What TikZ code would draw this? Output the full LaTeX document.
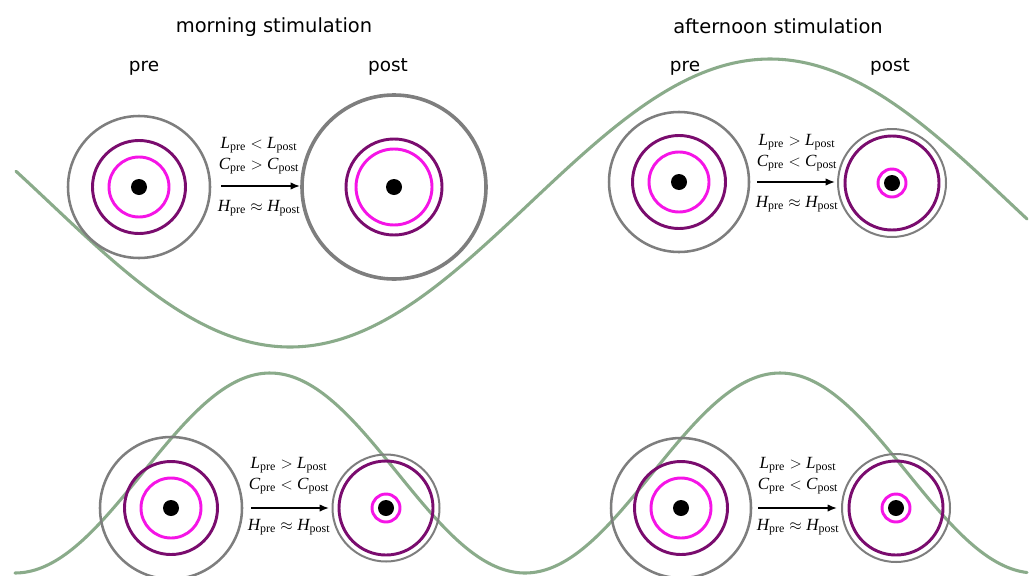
\documentclass[tikz,border=0pt]{standalone}
\usepackage{fontspec}
\setmainfont{Liberation Serif}
\newfontfamily\labfont{DejaVu Sans}
\usetikzlibrary{arrows.meta}
\definecolor{wave}{HTML}{8AAB8A}
\definecolor{ringgray}{HTML}{7E7E7E}
\definecolor{ringpurple}{HTML}{7A0C6E}
\definecolor{ringmag}{HTML}{F514E6}
\begin{document}
\begin{tikzpicture}[x=0.75pt,y=-0.75pt,
  wavestyle/.style={draw=wave,line width=2.3pt,line cap=round},
  grayring/.style={draw=ringgray,line width=1.9pt},
  grayringthick/.style={draw=ringgray,line width=2.7pt},
  grayringthin/.style={draw=ringgray,line width=1.5pt},
  purplering/.style={draw=ringpurple,line width=2.2pt},
  magring/.style={draw=ringmag,line width=2.2pt},
  dotstyle/.style={fill=black},
  title/.style={font=\labfont\fontsize{14.6pt}{16pt}\selectfont,anchor=base},
  phase/.style={font=\labfont\fontsize{13.8pt}{16pt}\selectfont,anchor=base},
  rel/.style={font=\fontsize{12.8pt}{14pt}\selectfont,inner sep=0pt},
  trans/.style={-{Latex[length=7pt,width=5.5pt]},line width=1.1pt}
]
\useasboundingbox (0,0) rectangle (1030,575);
% background waves
\draw[wavestyle] plot[domain=16:1027,samples=300] (\x,{203+144*cos(0.375*(\x-290))});
\draw[wavestyle] plot[domain=15:1027,samples=300] (\x,{473-100*cos(0.70588*(\x-270))});
% titles
\node[title] (tmorning) at (274,32) {morning stimulation};
\node[title] (tafternoon) at (778,33) {afternoon stimulation};
\node[phase] (pre1) at (144,71) {pre};
\node[phase] (post1) at (388,71) {post};
\node[phase] (pre2) at (685,71) {pre};
\node[phase] (post2) at (890,71) {post};
% centres
\coordinate (c1) at (139,187);
\coordinate (c2) at (394,187);
\coordinate (c3) at (679,182);
\coordinate (c4) at (892,183);
\coordinate (c5) at (171,508);
\coordinate (c6) at (386,508);
\coordinate (c7) at (681,508);
\coordinate (c8) at (896,508);
% top-left pre
\draw[grayring] (c1) circle (71);
\draw[purplering] (c1) circle (46.5);
\draw[magring] (c1) circle (30);
\fill[dotstyle] (c1) circle (8);
% top-left post
\draw[grayringthick] (c2) circle (92);
\draw[purplering] (c2) circle (48);
\draw[magring] (c2) circle (38);
\fill[dotstyle] (c2) circle (8);
% top-right pre
\draw[grayring] (c3) circle (70);
\draw[purplering] (c3) circle (46.5);
\draw[magring] (c3) circle (30);
\fill[dotstyle] (c3) circle (8);
% top-right post
\draw[grayringthin] (c4) circle (54);
\draw[purplering] (c4) circle (47);
\draw[magring] (c4) circle (14);
\fill[dotstyle] (c4) circle (8);
% bottom-left pre
\draw[grayring] (c5) circle (71);
\draw[purplering] (c5) circle (46.5);
\draw[magring] (c5) circle (30);
\fill[dotstyle] (c5) circle (8);
% bottom-left post
\draw[grayringthin] (c6) circle (53.5);
\draw[purplering] (c6) circle (47);
\draw[magring] (c6) circle (14);
\fill[dotstyle] (c6) circle (8);
% bottom-right pre
\draw[grayring] (c7) circle (70);
\draw[purplering] (c7) circle (46.5);
\draw[magring] (c7) circle (30);
\fill[dotstyle] (c7) circle (8);
% bottom-right post
\draw[grayringthin] (c8) circle (54);
\draw[purplering] (c8) circle (47);
\draw[magring] (c8) circle (14);
\fill[dotstyle] (c8) circle (8);
% relations top-left
\node[rel] (l1) at (259,145) {$\mathit{L}_{\mathrm{pre}} < \mathit{L}_{\mathrm{post}}$};
\node[rel] (k1) at (259,166) {$\mathit{C}_{\mathrm{pre}} > \mathit{C}_{\mathrm{post}}$};
\node[rel] (h1) at (259,208) {$\mathit{H}_{\mathrm{pre}} \approx \mathit{H}_{\mathrm{post}}$};
\coordinate (a1s) at (221,186);
\coordinate (a1e) at (300,186);
\draw[trans] (a1s) -- (a1e);
% relations top-right
\node[rel] (l2) at (797,142) {$\mathit{L}_{\mathrm{pre}} > \mathit{L}_{\mathrm{post}}$};
\node[rel] (k2) at (797,163) {$\mathit{C}_{\mathrm{pre}} < \mathit{C}_{\mathrm{post}}$};
\node[rel] (h2) at (797,204) {$\mathit{H}_{\mathrm{pre}} \approx \mathit{H}_{\mathrm{post}}$};
\coordinate (a2s) at (757,182);
\coordinate (a2e) at (835,182);
\draw[trans] (a2s) -- (a2e);
% relations bottom-left
\node[rel] (l3) at (289,465) {$\mathit{L}_{\mathrm{pre}} > \mathit{L}_{\mathrm{post}}$};
\node[rel] (k3) at (289,486) {$\mathit{C}_{\mathrm{pre}} < \mathit{C}_{\mathrm{post}}$};
\node[rel] (h3) at (289,527) {$\mathit{H}_{\mathrm{pre}} \approx \mathit{H}_{\mathrm{post}}$};
\coordinate (a3s) at (251,508);
\coordinate (a3e) at (329,508);
\draw[trans] (a3s) -- (a3e);
% relations bottom-right
\node[rel] (l4) at (798,465) {$\mathit{L}_{\mathrm{pre}} > \mathit{L}_{\mathrm{post}}$};
\node[rel] (k4) at (798,486) {$\mathit{C}_{\mathrm{pre}} < \mathit{C}_{\mathrm{post}}$};
\node[rel] (h4) at (798,527) {$\mathit{H}_{\mathrm{pre}} \approx \mathit{H}_{\mathrm{post}}$};
\coordinate (a4s) at (758,508);
\coordinate (a4e) at (837,508);
\draw[trans] (a4s) -- (a4e);
\end{tikzpicture}
\end{document}
